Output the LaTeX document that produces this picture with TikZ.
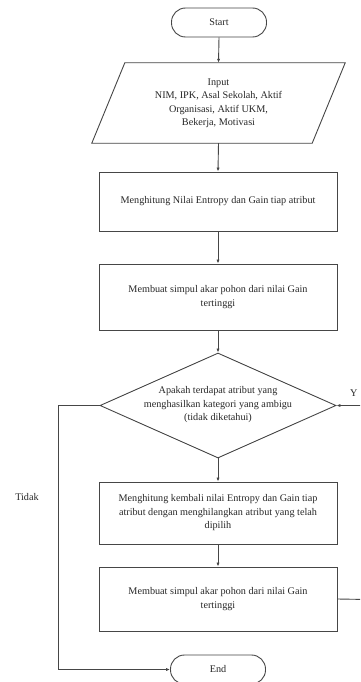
\documentclass[tikz,border=0pt]{standalone}
\usepackage{fontspec}
\setmainfont{Liberation Serif}
\usetikzlibrary{shapes.geometric,arrows.meta}
\definecolor{lin}{RGB}{70,70,70}
\definecolor{txt}{RGB}{40,40,40}
\begin{document}
\begin{tikzpicture}[x=1pt,y=-1pt,
  every node/.style={font=\fontsize{10.2}{13.5}\selectfont, text=txt},
  base/.style={draw=lin, line width=0.9pt},
  term/.style={base, rectangle, rounded corners=14pt, minimum width=95pt, minimum height=29pt, inner sep=0pt},
  procbox/.style={base, rectangle, minimum width=238pt, inner sep=0pt, align=center},
  conn/.style={draw=lin, line width=0.9pt, -{Latex[length=4pt,width=3.2pt]}},
  plain/.style={draw=lin, line width=0.9pt}
]
\clip (0,0) rectangle (360,682);
\fill[white] (0,0) rectangle (360,682);

\node[term] (start) at (219,22.5) {Start};
\node[rectangle, minimum width=220pt, minimum height=80pt, inner sep=0pt, align=center] (input) at (218.5,103) {Input\\NIM, IPK, Asal Sekolah, Aktif\\Organisasi, Aktif UKM,\\Bekerja, Motivasi};
\draw[base, line join=miter] ([xshift=-16.5pt]input.south west) -- ([xshift=16.5pt]input.north west) -- ([xshift=16.5pt]input.north east) -- ([xshift=-16.5pt]input.south east) -- cycle;
\node[procbox, minimum height=59pt] (b1) at (218,201.5) {Menghitung Nilai Entropy dan Gain tiap atribut};
\node[procbox, minimum height=66pt] (b2) at (218,297) {Membuat simpul akar pohon dari nilai Gain\\tertinggi};
\node[base, diamond, minimum width=236pt, minimum height=105pt, inner sep=0pt] (dec) at (218,405.5) {};
\node[align=center] (dectxt) at (218,405) {Apakah terdapat atribut yang\\menghasilkan kategori yang ambigu\\(tidak diketahui)};
\node[procbox, minimum height=62pt] (b3) at (218,513) {Menghitung kembali nilai Entropy dan Gain tiap\\atribut dengan menghilangkan atribut yang telah\\dipilih};
\node[procbox, minimum height=64pt] (b4) at (218,599) {Membuat simpul akar pohon dari nilai Gain\\tertinggi};
\node[term] (end) at (218,669.5) {End};

\node (tidak) at (27,497) {Tidak};
\node[anchor=west, inner sep=0pt] (ya) at (350,393) {Y};

\coordinate (lc) at (58,405.5);
\coordinate (rc) at (400,600);

\draw[conn] (start.south) -- (input.north);
\draw[conn] (input.south) -- (b1.north);
\draw[conn] (b1.south) -- (b2.north);
\draw[conn] (b2.south) -- (dec.north);
\draw[conn] (dec.south) -- (b3.north);
\draw[conn] (b3.south) -- (b4.north);
\draw[conn] (dec.west) -- (lc) |- (end.west);
\draw[conn] (b4.east) -- (rc) |- (dec.east);
\end{tikzpicture}
\end{document}
